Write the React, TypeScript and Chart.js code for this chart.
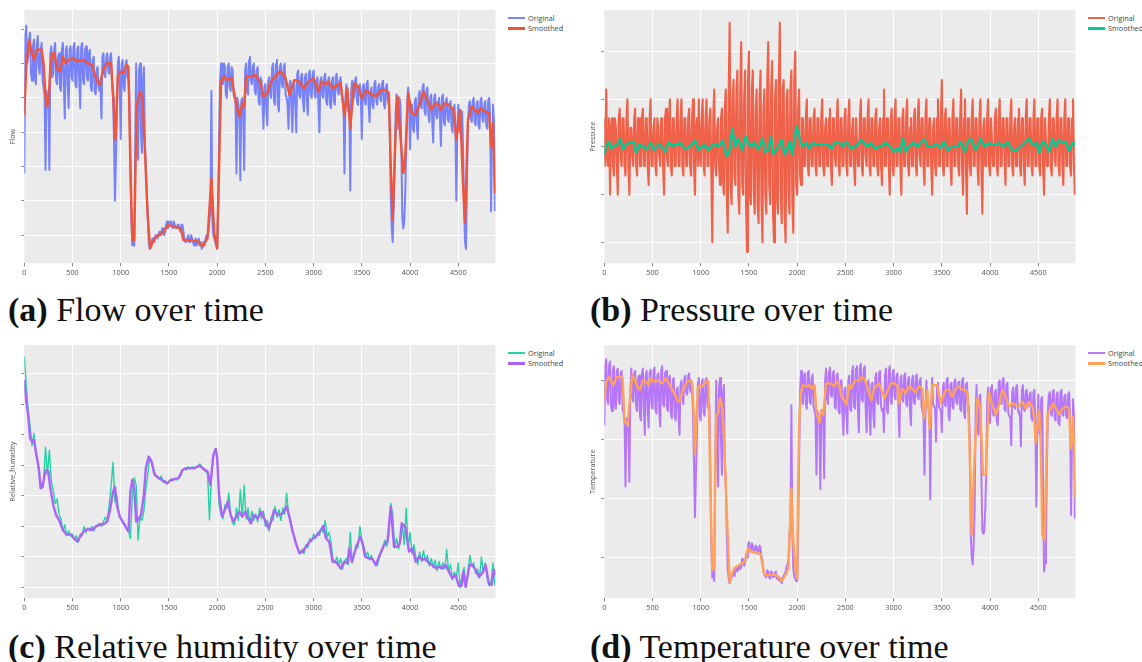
import React, { useEffect, useRef } from 'react';
import { Chart, registerables } from 'chart.js';

Chart.register(...registerables);

// ---------- time axes for the raw ("Original") series ----------
// samples on even steps (A) and the in-between samples (B)
const timeOrig = [
  0, 20, 40, 60, 80, 100, 120, 140, 160, 180,
  200, 220, 240, 260, 280, 300, 320, 340, 360, 380,
  400, 420, 440, 460, 480, 500, 520, 540, 560, 580,
  600, 620, 640, 660, 680, 700, 720, 740, 760, 780,
  800, 820, 840, 860, 880, 900, 920, 940, 960, 980,
  1000, 1020, 1040, 1060, 1080, 1100, 1120, 1140, 1160, 1180,
  1200, 1220, 1240, 1260, 1280, 1300, 1320, 1340, 1360, 1380,
  1400, 1420, 1440, 1460, 1480, 1500, 1520, 1540, 1560, 1580,
  1600, 1620, 1640, 1660, 1680, 1700, 1720, 1740, 1760, 1780,
  1800, 1820, 1840, 1860, 1880, 1900, 1920, 1940, 1960, 1980,
  2000, 2020, 2040, 2060, 2080, 2100, 2120, 2140, 2160, 2180,
  2200, 2220, 2240, 2260, 2280, 2300, 2320, 2340, 2360, 2380,
  2400, 2420, 2440, 2460, 2480, 2500, 2520, 2540, 2560, 2580,
  2600, 2620, 2640, 2660, 2680, 2700, 2720, 2740, 2760, 2780,
  2800, 2820, 2840, 2860, 2880, 2900, 2920, 2940, 2960, 2980,
  3000, 3020, 3040, 3060, 3080, 3100, 3120, 3140, 3160, 3180,
  3200, 3220, 3240, 3260, 3280, 3300, 3320, 3340, 3360, 3380,
  3400, 3420, 3440, 3460, 3480, 3500, 3520, 3540, 3560, 3580,
  3600, 3620, 3640, 3660, 3680, 3700, 3720, 3740, 3760, 3780,
  3800, 3820, 3840, 3860, 3880, 3900, 3920, 3940, 3960, 3980,
  4000, 4020, 4040, 4060, 4080, 4100, 4120, 4140, 4160, 4180,
  4200, 4220, 4240, 4260, 4280, 4300, 4320, 4340, 4360, 4380,
  4400, 4420, 4440, 4460, 4480, 4500, 4520, 4540, 4560, 4580,
  4600, 4620, 4640, 4660, 4680, 4700, 4720, 4740, 4760, 4780,
  4800, 4820, 4840, 4860, 4880,
];
const timeOrigMid = [
  10, 30, 50, 70, 90, 110, 130, 150, 170, 190,
  210, 230, 250, 270, 290, 310, 330, 350, 370, 390,
  410, 430, 450, 470, 490, 510, 530, 550, 570, 590,
  610, 630, 650, 670, 690, 710, 730, 750, 770, 790,
  810, 830, 850, 870, 890, 910, 930, 950, 970, 990,
  1010, 1030, 1050, 1070, 1090, 1110, 1130, 1150, 1170, 1190,
  1210, 1230, 1250, 1270, 1290, 1310, 1330, 1350, 1370, 1390,
  1410, 1430, 1450, 1470, 1490, 1510, 1530, 1550, 1570, 1590,
  1610, 1630, 1650, 1670, 1690, 1710, 1730, 1750, 1770, 1790,
  1810, 1830, 1850, 1870, 1890, 1910, 1930, 1950, 1970, 1990,
  2010, 2030, 2050, 2070, 2090, 2110, 2130, 2150, 2170, 2190,
  2210, 2230, 2250, 2270, 2290, 2310, 2330, 2350, 2370, 2390,
  2410, 2430, 2450, 2470, 2490, 2510, 2530, 2550, 2570, 2590,
  2610, 2630, 2650, 2670, 2690, 2710, 2730, 2750, 2770, 2790,
  2810, 2830, 2850, 2870, 2890, 2910, 2930, 2950, 2970, 2990,
  3010, 3030, 3050, 3070, 3090, 3110, 3130, 3150, 3170, 3190,
  3210, 3230, 3250, 3270, 3290, 3310, 3330, 3350, 3370, 3390,
  3410, 3430, 3450, 3470, 3490, 3510, 3530, 3550, 3570, 3590,
  3610, 3630, 3650, 3670, 3690, 3710, 3730, 3750, 3770, 3790,
  3810, 3830, 3850, 3870, 3890, 3910, 3930, 3950, 3970, 3990,
  4010, 4030, 4050, 4070, 4090, 4110, 4130, 4150, 4170, 4190,
  4210, 4230, 4250, 4270, 4290, 4310, 4330, 4350, 4370, 4390,
  4410, 4430, 4450, 4470, 4490, 4510, 4530, 4550, 4570, 4590,
  4610, 4630, 4650, 4670, 4690, 4710, 4730, 4750, 4770, 4790,
  4810, 4830, 4850, 4870,
];

const xTickValues = [0, 500, 1000, 1500, 2000, 2500, 3000, 3500, 4000, 4500];

// ---------- (a) Flow ----------
const flowOrig = [
  18, 61, 52, 59, 45, 57, 44, 58, 47, 56,
  43, 19, 40, 19, 55, 47, 56, 44, 53, 42,
  56, 34, 55, 37, 55, 45, 56, 43, 55, 37,
  56, 44, 55, 45, 54, 42, 52, 41, 49, 42,
  34, 53, 46, 53, 47, 53, 40, 10, 35, 52,
  28, 51, 42, 51, 45, 20, -3, -3, 50, 22,
  50, 24, 49, 20, 6, -4, -2, -1, 0, -1,
  1, 0, 2, 1, 4, 3, 4, 2, 3, 2,
  3, 1, 3, -1, -2, 0, -2, -1, -3, -1,
  -2, -3, -4, -2, -1, 0, 5, 42, 0, -2,
  -4, 30, 50, 44, 49, 40, 50, 42, 48, 40,
  18, 38, 16, 40, 19, 50, 41, 52, 44, 50,
  41, 49, 38, 45, 31, 44, 32, 46, 40, 50,
  38, 51, 36, 50, 43, 50, 40, 31, 45, 30,
  44, 30, 48, 40, 47, 36, 47, 35, 48, 40,
  48, 40, 46, 30, 46, 40, 47, 38, 46, 37,
  46, 38, 47, 41, 46, 40, 18, 44, 36, 13,
  45, 40, 46, 38, 44, 28, 44, 38, 45, 33,
  43, 37, 45, 38, 44, 39, 45, 37, 44, 38,
  12, -2, 20, 41, 31, 38, 5, 4, 25, 43,
  25, 38, 30, 40, 28, 42, 37, 44, 35, 43,
  33, 41, 27, 41, 34, 40, 26, 41, 32, 40,
  33, 39, 30, 38, 10, 38, 30, 36, 9, -4,
  32, 39, 33, 40, 32, 39, 31, 40, 33, 39,
  31, 40, 7, 38, 7,
];
const flowOrigMid = [
  58, 50, 57, 47, 55, 46, 56, 49, 54, 45,
  41, 42, 40, 53, 46, 54, 45, 52, 43, 54,
  44, 54, 44, 54, 46, 55, 44, 54, 45, 55,
  45, 54, 46, 53, 43, 51, 42, 48, 43, 44,
  52, 47, 52, 48, 52, 44, 28, 22, 50, 44,
  50, 43, 50, 46, 40, 5, -2, 25, 30, 48,
  30, 45, 28, 12, -2, -3, -1, -2, 0, 0,
  1, 2, 0, 3, 2, 4, 3, 4, 2, 3,
  2, 3, 1, -2, -1, -2, 0, -2, -2, -3,
  -1, -2, -3, -3, 0, 1, 6, 4, -1, -3,
  10, 45, 45, 50, 41, 49, 43, 49, 41, 40,
  40, 36, 39, 35, 48, 42, 51, 45, 49, 42,
  48, 39, 46, 38, 43, 36, 45, 41, 49, 39,
  50, 38, 49, 44, 49, 41, 38, 44, 38, 43,
  38, 47, 41, 46, 39, 46, 39, 47, 41, 47,
  41, 45, 38, 45, 41, 46, 39, 45, 38, 45,
  39, 46, 42, 45, 41, 38, 40, 38, 38, 42,
  41, 45, 39, 43, 40, 43, 39, 44, 38, 42,
  38, 44, 39, 43, 40, 44, 38, 43, 39, 30,
  2, 8, 35, 36, 40, 25, 2, 12, 38, 38,
  37, 31, 39, 32, 41, 38, 43, 36, 42, 35,
  40, 33, 40, 35, 39, 34, 40, 33, 39, 34,
  38, 32, 37, 32, 30, 31, 35, 25, -2, 15,
  38, 34, 39, 33, 38, 32, 39, 34, 38, 32,
  39, 35, 30, 33,
];
const flowSmoothT = [
  0, 20, 50, 80, 100, 130, 180, 200, 220, 235,
  250, 270, 290, 310, 340, 370, 400, 430, 460, 500,
  550, 600, 650, 700, 750, 780, 820, 860, 900, 920,
  945, 970, 1000, 1030, 1060, 1080, 1100, 1120, 1140, 1165,
  1200, 1225, 1250, 1280, 1305, 1350, 1400, 1450, 1490, 1550,
  1620, 1650, 1700, 1800, 1850, 1900, 1940, 1970, 2000, 2020,
  2040, 2070, 2110, 2150, 2200, 2230, 2260, 2280, 2300, 2350,
  2400, 2450, 2480, 2520, 2550, 2600, 2650, 2700, 2750, 2800,
  2850, 2900, 2950, 3000, 3050, 3080, 3120, 3150, 3200, 3250,
  3280, 3320, 3350, 3380, 3420, 3460, 3500, 3550, 3600, 3650,
  3700, 3750, 3780, 3800, 3820, 3850, 3870, 3900, 3930, 3950,
  3980, 4020, 4060, 4100, 4140, 4180, 4220, 4260, 4300, 4320,
  4360, 4400, 4450, 4480, 4520, 4550, 4570, 4600, 4640, 4700,
  4730, 4780, 4820, 4840, 4860, 4880,
];
const flowSmoothV = [
  35.0, 49.1, 56.9, 53.0, 51.1, 54.0, 54.0, 50.1, 40.4, 37.5,
  38.4, 49.1, 53.0, 53.0, 48.6, 47.7, 52.0, 50.1, 51.1, 51.6,
  50.6, 51.1, 50.3, 49.6, 45.2, 43.8, 48.2, 50.1, 50.1, 41.4,
  27.8, 46.2, 47.7, 47.2, 49.6, 49.1, 20.0, -1.4, -1.4, 37.5,
  41.8, 40.4, 24.9, 5.4, -3.8, -0.9, 0.1, 1.1, 3.0, 2.5,
  2.0, -1.4, -1.4, -1.8, -3.3, -0.9, 16.6, 0.6, -3.8, 20.0,
  44.8, 46.2, 45.2, 45.7, 37.5, 34.6, 38.4, 37.5, 46.2, 46.2,
  46.7, 44.3, 40.4, 41.4, 44.3, 46.2, 47.7, 46.7, 40.9, 45.2,
  44.8, 42.8, 44.8, 45.7, 41.8, 44.8, 43.8, 44.8, 42.8, 43.8,
  44.3, 34.6, 42.8, 31.2, 44.3, 43.3, 39.9, 42.3, 40.9, 40.4,
  42.3, 42.3, 41.4, 20.0, 4.5, 29.7, 40.4, 28.7, 18.1, 22.9,
  41.4, 35.5, 35.0, 38.4, 41.8, 39.4, 36.5, 38.4, 38.0, 36.5,
  38.4, 38.0, 36.5, 27.8, 36.5, 14.2, 3.5, 33.6, 37.5, 35.5,
  37.0, 36.0, 35.5, 25.8, 32.6, 12.2,
];

// ---------- (b) Pressure ----------
const pressureOrig = [
  0.6, 1.2, -0.4, -1.0, 0.6, -0.6, 0.4, -1.0, 0.8, -0.4,
  0.6, -0.6, 1.0, -1.0, 0.4, -0.4, 0.8, -0.6, 0.6, -0.4,
  0.8, -0.4, 0.6, -0.8, 1.0, -0.4, 0.6, -0.6, 0.4, -0.4,
  0.6, -1.0, 0.8, -0.4, 1.0, -0.6, 0.6, -0.4, 1.0, -0.4,
  1.0, -0.6, 0.6, -0.4, 0.8, -0.6, 1.0, -1.0, 0.6, 1.0,
  -0.4, 1.0, -0.6, 1.0, -0.4, 0.8, -2.0, 1.2, -0.6, 0.6,
  -0.8, 0.8, -1.0, 1.2, -1.8, 2.6, -1.2, 1.4, -0.8, 1.6,
  -1.4, 2.2, -1.0, 1.6, -2.2, 2.0, -1.2, 1.6, -1.4, 1.2,
  -1.6, 1.6, -2.0, 1.2, -1.4, 2.2, -1.2, 1.8, -2.0, 1.4,
  -1.4, 2.6, -1.6, 1.4, -2.0, 1.2, -1.4, 1.6, -1.8, 2.0,
  -1.0, 1.2, -0.8, 0.6, -0.4, 1.0, -0.6, 0.6, -0.4, 0.8,
  -0.6, 0.6, -0.4, 1.0, -0.6, 0.6, -0.4, 0.8, -0.8, 0.6,
  -0.4, 1.0, -0.6, 0.6, -0.4, 0.8, -0.6, 1.0, -0.4, 0.6,
  -0.8, 0.6, -0.4, 1.0, -0.6, 0.6, -0.4, 1.0, -0.6, 0.6,
  -0.4, 0.8, -0.6, 0.6, -0.8, 1.2, -0.4, 0.6, -1.0, 0.8,
  -0.6, 1.0, -0.4, 0.6, -1.0, 0.8, -0.4, 1.0, -0.6, 0.6,
  -0.4, 0.8, -0.6, 1.0, -0.4, 0.6, -0.8, 1.0, -0.4, 0.6,
  -1.0, 0.6, -0.6, 1.0, -0.4, 1.4, -0.6, 0.8, -0.4, 0.6,
  -0.8, 1.0, -0.4, 0.6, -0.6, 1.2, -1.0, 1.0, -1.4, 0.6,
  -0.6, 1.0, -0.4, 0.6, -0.8, 1.0, -1.4, 0.6, -0.4, 1.0,
  -0.6, 0.6, -0.4, 0.8, -0.6, 1.0, -0.4, 0.6, -0.8, 0.6,
  -0.4, 1.0, -0.6, 0.6, -0.4, 0.8, -0.6, 0.6, -0.8, 1.0,
  -0.4, 0.6, -0.6, 1.0, -0.4, 0.6, -0.6, 0.8, -1.0, 0.6,
  -0.4, 1.0, -0.6, 0.6, -0.4, 1.0, -0.6, 0.6, -0.8, 1.0,
  -0.4, 0.6, -0.6, 1.0, -1.0,
];
const pressureOrigMid = [
  -0.4, -0.2, 0.6, 0.4, -0.4, 0.6, -0.4, 0.6, -0.2, 0.6,
  -0.4, 0.6, -0.4, 0.4, -0.2, 0.6, -0.4, 0.6, -0.4, 0.6,
  -0.4, 0.6, -0.4, 0.6, -0.4, 0.4, -0.4, 0.6, -0.2, 0.6,
  -0.4, 0.6, -0.2, 0.6, -0.4, 0.6, -0.4, 0.6, -0.4, 0.6,
  -0.4, 0.6, -0.4, 0.6, -0.4, 0.6, -0.4, 0.4, -0.4, -0.2,
  0.6, -0.4, 0.6, -0.4, 0.6, -0.6, 0.6, -0.4, 0.4, -0.4,
  0.6, -0.6, 0.8, -1.0, 1.2, -0.8, 1.0, -0.6, 1.2, -1.0,
  1.2, -0.8, 1.0, -1.2, 1.4, -1.0, 1.2, -1.0, 0.8, -1.2,
  1.0, -1.2, 0.8, -1.0, 1.4, -0.8, 1.2, -1.4, 1.0, -1.0,
  1.4, -1.0, 1.2, -1.4, 1.0, -1.0, 1.2, -1.2, 1.4, -0.8,
  0.8, -0.6, 0.6, -0.4, 0.6, -0.4, 0.6, -0.4, 0.6, -0.4,
  0.6, -0.4, 0.6, -0.4, 0.4, -0.4, 0.6, -0.4, 0.6, -0.2,
  0.6, -0.4, 0.6, -0.4, 0.6, -0.4, 0.6, -0.4, 0.4, -0.4,
  0.6, -0.4, 0.6, -0.4, 0.6, -0.2, 0.6, -0.4, 0.6, -0.4,
  0.6, -0.4, 0.4, -0.4, 0.6, -0.4, 0.6, -0.4, 0.6, -0.4,
  0.6, -0.4, 0.6, -0.4, 0.6, -0.4, 0.6, -0.4, 0.4, -0.4,
  0.6, -0.4, 0.6, -0.2, 0.6, -0.4, 0.6, -0.4, 0.6, -0.4,
  0.4, -0.4, 0.6, -0.4, 0.6, -0.4, 0.6, -0.4, 0.6, -0.4,
  0.6, -0.4, 0.6, -0.4, 0.6, -0.4, 0.6, -0.4, 0.6, -0.4,
  0.6, -0.4, 0.6, -0.4, 0.6, -0.4, 0.4, -0.4, 0.6, -0.4,
  0.6, -0.4, 0.6, -0.4, 0.6, -0.4, 0.6, -0.2, 0.6, -0.4,
  0.6, -0.4, 0.4, -0.4, 0.6, -0.4, 0.6, -0.4, 0.6, -0.4,
  0.6, -0.4, 0.6, -0.4, 0.6, -0.4, 0.6, -0.4, 0.6, -0.4,
  0.6, -0.4, 0.6, -0.2, 0.6, -0.4, 0.6, -0.4, 0.6, -0.4,
  0.6, -0.4, 0.6, -0.4,
];
const pressureSmoothT = [
  0, 20, 50, 70, 97, 131, 166, 193, 228, 269,
  303, 331, 359, 407, 441, 483, 517, 562, 607, 631,
  666, 717, 786, 838, 890, 941, 976, 1034, 1079, 1131,
  1183, 1228, 1269, 1297, 1328, 1355, 1390, 1431, 1466, 1493,
  1528, 1552, 1597, 1641, 1666, 1700, 1728, 1752, 1793, 1841,
  1869, 1897, 1924, 1948, 1993, 2028, 2055, 2097, 2124, 2166,
  2217, 2269, 2321, 2355, 2390, 2434, 2476, 2510, 2562, 2607,
  2666, 2727, 2761, 2813, 2865, 2917, 2969, 3003, 3038, 3066,
  3097, 3125, 3159, 3204, 3246, 3287, 3322, 3349, 3401, 3446,
  3488, 3522, 3564, 3609, 3661, 3696, 3737, 3765, 3799, 3851,
  3903, 3945, 3990, 4042, 4093, 4138, 4180, 4221, 4266, 4318,
  4353, 4405, 4439, 4484, 4509, 4543, 4578, 4612, 4647, 4682,
  4716, 4751, 4785, 4820, 4855, 4886,
];
const pressureSmoothV = [
  -0.17, 0.04, 0.11, -0.03, 0.02, 0.04, 0.16, -0.05, 0.06, 0.09,
  0.11, -0.12, 0.04, 0.01, -0.05, 0.08, -0.06, 0.06, -0.03, -0.1,
  0.09, 0.02, 0.08, -0.05, 0.01, 0.13, -0.06, 0.04, -0.06, 0.06,
  0.01, 0.13, -0.2, -0.1, 0.39, 0.01, 0.18, -0.06, 0.22, 0.08,
  0.01, 0.09, -0.05, 0.18, -0.1, -0.06, 0.22, -0.15, -0.03, 0.15,
  -0.17, -0.03, 0.11, -0.17, 0.44, 0.15, 0.01, 0.08, -0.03, 0.08,
  0.04, 0.06, 0.04, -0.03, 0.08, 0.09, 0.01, 0.11, -0.03, 0.01,
  0.15, 0.01, 0.08, -0.03, 0.01, 0.08, 0.01, -0.1, -0.03, -0.1,
  0.18, -0.1, 0.01, 0.09, 0.01, 0.11, 0.15, 0.01, 0.01, 0.06,
  -0.03, 0.11, -0.08, 0.01, 0.01, 0.11, -0.1, 0.08, 0.18, -0.06,
  0.16, 0.01, 0.08, 0.04, 0.08, 0.01, 0.11, -0.05, -0.08, 0.01,
  0.08, 0.18, 0.04, 0.08, -0.12, 0.11, 0.06, -0.1, 0.16, 0.01,
  0.15, 0.09, 0.11, -0.08, 0.08, 0.06,
];

// ---------- (c) Relative humidity ----------
const humidityOrig = [
  95.7, 86.4, 78.0, 73.0, 66.5, 70.5, 64.0, 61.0, 56.0, 53.0,
  55.0, 66.0, 57.0, 65.0, 55.0, 52.0, 47.5, 49.0, 44.0, 42.5,
  38.5, 40.5, 37.0, 38.5, 36.8, 37.5, 35.5, 37.0, 34.8, 37.5,
  37.0, 40.0, 38.0, 39.5, 38.5, 40.0, 38.5, 39.8, 40.5, 41.0,
  40.0, 41.5, 43.0, 42.0, 47.0, 53.0, 61.0, 48.0, 50.0, 44.0,
  42.5, 41.0, 41.0, 39.0, 38.5, 36.0, 50.0, 56.0, 53.5, 35.5,
  43.0, 42.0, 45.0, 52.0, 57.0, 62.5, 61.5, 59.0, 56.5, 56.0,
  55.5, 56.5, 54.5, 55.0, 54.0, 54.8, 55.5, 55.0, 55.6, 55.2,
  56.0, 56.5, 58.5, 59.0, 58.5, 59.5, 58.8, 59.6, 58.8, 59.4,
  59.5, 60.5, 59.5, 58.5, 58.0, 57.5, 42.1, 56.0, 63.0, 65.5,
  63.0, 47.0, 44.0, 42.5, 47.0, 46.0, 51.0, 44.0, 41.0, 40.5,
  46.0, 42.0, 52.0, 43.0, 53.5, 42.5, 46.0, 41.0, 45.0, 42.0,
  44.0, 41.5, 46.0, 42.5, 45.0, 40.0, 42.0, 38.5, 43.0, 42.0,
  46.5, 43.0, 45.5, 42.0, 46.0, 44.0, 50.9, 44.0, 41.5, 38.0,
  36.5, 34.0, 32.5, 31.0, 32.5, 31.0, 34.0, 33.0, 36.0, 35.0,
  37.5, 36.0, 38.0, 37.0, 39.5, 38.0, 42.0, 36.5, 38.0, 35.0,
  29.0, 28.0, 30.0, 27.5, 29.5, 26.0, 28.5, 29.5, 27.5, 38.0,
  28.0, 31.0, 34.0, 33.0, 40.0, 35.5, 33.5, 30.5, 31.5, 29.0,
  30.5, 28.5, 28.0, 27.0, 29.5, 31.5, 33.5, 35.5, 33.5, 37.0,
  47.5, 44.0, 33.0, 36.0, 32.5, 35.0, 40.5, 34.0, 46.0, 33.0,
  38.0, 31.0, 34.0, 30.0, 27.5, 31.5, 28.5, 32.0, 28.5, 30.5,
  27.0, 29.5, 26.5, 29.0, 25.5, 28.5, 26.0, 28.0, 26.0, 32.5,
  25.0, 27.5, 22.5, 25.0, 23.0, 28.0, 19.8, 24.0, 26.5, 20.0,
  25.0, 30.5, 27.0, 28.0, 24.5, 26.0, 23.0, 30.0, 25.0, 28.0,
  23.0, 20.5, 21.5, 28.0, 20.5,
];
const humiditySmoothT = [
  0, 20, 40, 60, 80, 100, 120, 150, 170, 190,
  210, 230, 250, 270, 300, 330, 360, 400, 440, 480,
  520, 550, 580, 620, 660, 700, 740, 780, 820, 860,
  890, 920, 940, 960, 990, 1020, 1050, 1080, 1100, 1120,
  1140, 1160, 1180, 1210, 1240, 1260, 1290, 1320, 1350, 1400,
  1450, 1480, 1520, 1600, 1640, 1680, 1760, 1820, 1860, 1900,
  1930, 1960, 1985, 2000, 2020, 2050, 2080, 2110, 2140, 2170,
  2200, 2230, 2260, 2290, 2320, 2350, 2380, 2420, 2460, 2500,
  2530, 2560, 2590, 2630, 2679, 2721, 2748, 2783, 2817, 2852,
  2886, 2921, 2972, 3007, 3041, 3076, 3100, 3128, 3162, 3197,
  3231, 3283, 3317, 3352, 3369, 3397, 3438, 3483, 3507, 3534,
  3576, 3610, 3645, 3679, 3731, 3766, 3800, 3834, 3869, 3893,
  3914, 3948, 3990, 4024, 4059, 4093, 4128, 4162, 4197, 4231,
  4272, 4300, 4334, 4369, 4403, 4438, 4472, 4507, 4534, 4552,
  4576, 4617, 4645, 4679, 4714, 4748, 4783, 4817, 4845, 4869,
  4886,
];
const humiditySmoothV = [
  88.1, 80.9, 76.6, 68.9, 67.8, 68.4, 64.5, 59.1, 52.5, 53.0,
  56.9, 58.5, 58.0, 52.5, 47.0, 43.7, 42.1, 38.8, 37.2, 37.4,
  35.9, 35.0, 36.6, 38.5, 39.1, 38.8, 39.9, 40.5, 40.7, 41.6,
  45.4, 51.4, 53.0, 47.0, 43.2, 41.6, 39.9, 38.3, 51.4, 55.2,
  52.5, 41.6, 42.1, 43.7, 50.3, 59.1, 62.9, 61.2, 56.9, 55.8,
  54.7, 54.1, 55.2, 55.8, 58.5, 59.1, 59.1, 59.9, 58.8, 58.0,
  53.6, 63.4, 65.4, 62.3, 50.3, 43.2, 45.4, 48.1, 43.7, 41.6,
  43.2, 44.8, 43.2, 44.8, 42.6, 41.0, 43.7, 42.6, 44.8, 41.6,
  39.4, 41.6, 45.4, 43.7, 44.3, 46.5, 43.2, 38.3, 34.4, 31.2,
  31.7, 33.3, 35.5, 36.3, 37.2, 38.8, 40.2, 36.1, 35.0, 28.4,
  28.4, 26.2, 28.4, 27.9, 32.8, 28.4, 32.8, 36.6, 34.4, 30.1,
  29.5, 29.3, 27.3, 30.1, 33.9, 35.0, 46.5, 33.3, 33.3, 34.4,
  41.0, 39.9, 31.7, 32.8, 28.4, 30.1, 29.0, 29.5, 27.9, 27.3,
  26.2, 26.8, 26.2, 27.3, 25.1, 23.0, 24.0, 20.5, 20.5, 25.1,
  20.2, 27.3, 27.3, 25.7, 23.5, 24.6, 27.3, 21.3, 20.8, 25.7,
  24.0,
];

// ---------- (d) Temperature ----------
const temperatureOrig = [
  21.2, 26.8, 23.0, 26.6, 22.4, 26.2, 22.6, 26.0, 23.0, 25.8,
  22.2, 16.0, 21.0, 16.4, 26.0, 23.2, 25.8, 22.4, 25.4, 21.6,
  26.0, 20.4, 25.8, 21.0, 25.9, 22.6, 26.1, 22.2, 25.6, 21.1,
  26.2, 22.8, 25.8, 22.4, 25.4, 21.8, 25.2, 21.6, 24.4, 20.4,
  25.0, 23.0, 25.4, 23.8, 25.6, 24.0, 22.0, 13.4, 20.0, 25.2,
  21.6, 25.1, 22.0, 25.2, 22.6, 17.0, 8.3, 8.0, 25.0, 16.0,
  25.2, 17.0, 24.6, 16.0, 9.0, 7.8, 8.3, 8.6, 9.0, 8.8,
  9.4, 9.2, 9.8, 9.6, 10.0, 11.3, 10.6, 11.0, 10.5, 10.9,
  10.4, 10.8, 9.8, 8.6, 8.3, 8.8, 8.2, 8.7, 8.4, 8.8,
  8.3, 8.0, 7.8, 8.4, 8.8, 9.4, 12.0, 22.9, 9.0, 8.2,
  8.0, 18.0, 25.8, 23.0, 25.6, 22.6, 25.8, 23.0, 25.5, 22.4,
  17.0, 22.0, 15.8, 22.5, 16.7, 26.0, 23.0, 26.1, 23.6, 25.8,
  22.6, 25.6, 22.2, 25.0, 20.4, 24.4, 20.5, 25.4, 22.4, 26.2,
  22.6, 26.2, 20.6, 26.4, 23.2, 26.2, 20.6, 25.0, 20.4, 24.8,
  21.0, 25.6, 23.0, 25.8, 22.4, 20.6, 26.0, 22.2, 26.2, 23.0,
  25.9, 23.4, 25.6, 20.2, 25.4, 23.2, 25.6, 22.8, 25.3, 21.2,
  25.4, 23.0, 25.5, 23.4, 25.2, 22.4, 17.0, 25.0, 22.6, 14.9,
  25.2, 22.8, 19.8, 24.8, 22.6, 20.6, 24.8, 22.8, 25.2, 21.6,
  24.8, 22.6, 25.1, 23.0, 24.9, 22.4, 25.2, 21.8, 24.8, 22.8,
  12.0, 9.4, 14.0, 24.6, 20.4, 23.8, 12.3, 12.2, 17.0, 24.4,
  21.4, 24.6, 22.0, 24.2, 21.2, 25.0, 23.0, 25.2, 22.4, 24.8,
  22.0, 19.5, 24.4, 22.6, 24.6, 22.2, 19.4, 24.6, 22.4, 24.2,
  22.8, 24.0, 21.6, 24.2, 14.3, 23.8, 20.2, 23.6, 8.8, 11.0,
  22.4, 24.0, 22.0, 24.2, 21.6, 24.0, 21.2, 24.2, 22.0, 23.8,
  21.8, 24.0, 13.6, 23.4, 13.3,
];
const temperatureOrigMid = [
  26.2, 23.4, 26.3, 22.8, 25.9, 23.0, 25.8, 23.3, 25.6, 22.6,
  21.5, 21.8, 21.0, 24.0, 23.6, 25.6, 22.8, 25.2, 22.0, 25.6,
  22.6, 25.4, 22.4, 25.6, 22.9, 25.8, 22.6, 25.4, 22.4, 25.8,
  23.0, 25.6, 22.7, 25.2, 22.2, 25.0, 22.0, 24.2, 22.0, 24.6,
  23.4, 25.2, 24.0, 25.4, 24.2, 24.6, 18.0, 17.0, 24.6, 22.0,
  24.8, 22.3, 25.0, 22.8, 23.0, 11.0, 8.6, 17.0, 20.0, 24.4,
  20.0, 23.8, 18.0, 12.0, 8.2, 8.1, 8.6, 8.4, 9.2, 9.1,
  9.0, 9.9, 9.3, 10.3, 10.9, 10.5, 11.2, 10.4, 11.0, 10.3,
  11.0, 10.0, 8.8, 8.4, 8.9, 8.3, 8.8, 8.3, 8.7, 8.2,
  8.1, 8.2, 8.3, 8.6, 9.2, 9.8, 12.5, 12.0, 8.4, 8.0,
  12.0, 24.0, 23.4, 25.4, 23.0, 25.6, 23.2, 25.2, 22.8, 22.0,
  22.4, 21.6, 22.0, 21.8, 25.0, 23.4, 25.8, 23.8, 25.6, 22.8,
  25.4, 22.4, 25.0, 22.0, 24.2, 22.0, 25.0, 22.6, 25.8, 22.8,
  26.0, 22.4, 26.0, 23.4, 25.9, 22.6, 24.8, 22.0, 24.6, 22.0,
  25.2, 23.2, 25.6, 22.8, 22.6, 25.4, 22.6, 25.8, 23.2, 25.6,
  23.6, 25.4, 22.6, 25.0, 23.4, 25.4, 23.0, 25.0, 22.4, 25.0,
  23.2, 25.3, 23.6, 25.0, 22.8, 22.0, 22.4, 22.8, 22.4, 22.6,
  23.0, 22.6, 24.4, 22.8, 22.4, 24.4, 23.0, 25.0, 22.0, 24.6,
  22.8, 24.9, 23.2, 24.8, 22.6, 25.0, 22.2, 24.6, 23.0, 20.0,
  10.0, 11.0, 22.0, 21.0, 23.6, 17.0, 12.0, 14.0, 23.0, 22.0,
  24.4, 22.2, 24.0, 21.6, 24.8, 23.2, 25.0, 22.6, 24.6, 22.2,
  21.8, 24.0, 22.8, 24.4, 22.4, 22.0, 24.2, 22.6, 24.0, 22.8,
  23.8, 21.8, 24.0, 21.0, 21.0, 20.6, 23.4, 16.0, 9.5, 18.0,
  23.8, 22.2, 24.0, 21.8, 23.8, 21.4, 24.0, 22.2, 23.6, 22.0,
  23.8, 22.0, 20.0, 22.0,
];
const temperatureSmoothT = [
  0, 20, 50, 90, 130, 170, 190, 210, 240, 290,
  310, 350, 370, 400, 430, 460, 480, 520, 560, 600,
  640, 680, 720, 760, 780, 820, 860, 900, 910, 930,
  940, 955, 970, 990, 1020, 1060, 1080, 1090, 1110, 1120,
  1140, 1150, 1160, 1180, 1200, 1220, 1240, 1260, 1280, 1300,
  1320, 1350, 1400, 1450, 1470, 1490, 1520, 1580, 1620, 1640,
  1660, 1700, 1780, 1820, 1840, 1880, 1910, 1940, 1960, 1990,
  2000, 2010, 2020, 2040, 2060, 2100, 2130, 2150, 2180, 2200,
  2230, 2250, 2270, 2300, 2350, 2380, 2410, 2440, 2460, 2490,
  2510, 2540, 2560, 2600, 2650, 2670, 2700, 2750, 2770, 2796,
  2848, 2907, 2969, 3003, 3038, 3055, 3090, 3125, 3159, 3194,
  3228, 3263, 3298, 3315, 3349, 3374, 3401, 3453, 3488, 3540,
  3574, 3609, 3644, 3678, 3713, 3747, 3765, 3782, 3810, 3834,
  3869, 3896, 3927, 3955, 3990, 4024, 4059, 4093, 4128, 4163,
  4197, 4232, 4266, 4301, 4336, 4370, 4405, 4439, 4457, 4474,
  4509, 4526, 4543, 4567, 4595, 4630, 4657, 4692, 4716, 4751,
  4785, 4820, 4837, 4861, 4886,
];
const temperatureSmoothV = [
  23.3, 24.9, 25.3, 24.6, 25.3, 25.3, 25.2, 21.5, 21.2, 25.45,
  25.2, 24.3, 24.2, 25.0, 24.9, 24.6, 25.2, 24.9, 25.0, 24.75,
  25.2, 24.6, 24.0, 23.3, 23.2, 24.3, 24.9, 25.0, 24.75, 21.8,
  18.8, 21.5, 24.3, 24.6, 24.5, 24.9, 24.9, 20.4, 11.9, 8.9,
  9.1, 17.5, 22.1, 22.2, 23.5, 22.9, 20.4, 16.1, 11.9, 7.9,
  8.5, 9.1, 9.35, 9.6, 9.9, 10.8, 10.5, 10.4, 10.3, 9.35,
  8.5, 8.5, 8.55, 8.2, 8.0, 8.5, 9.1, 15.85, 11.3, 8.35,
  8.2, 16.1, 21.5, 24.0, 24.6, 24.5, 24.6, 24.3, 24.6, 22.3,
  21.4, 22.5, 22.1, 24.75, 24.75, 24.5, 24.9, 24.5, 23.6, 23.3,
  22.9, 24.6, 24.3, 25.0, 25.0, 25.3, 25.1, 23.8, 23.3, 24.3,
  24.75, 23.5, 24.75, 24.75, 24.6, 23.05, 24.3, 23.9, 24.5, 24.3,
  24.0, 24.5, 24.3, 21.8, 24.2, 20.9, 24.6, 24.6, 23.05, 24.2,
  24.2, 23.6, 24.3, 24.5, 24.2, 24.2, 24.0, 20.9, 11.9, 17.5,
  23.5, 22.9, 17.0, 17.0, 24.0, 22.9, 22.1, 22.9, 24.2, 23.6,
  22.8, 23.05, 22.9, 22.8, 23.2, 22.6, 23.2, 22.8, 21.9, 19.7,
  22.5, 19.5, 11.9, 11.5, 22.1, 22.6, 23.05, 22.5, 22.1, 22.6,
  22.8, 22.6, 19.2, 21.9, 15.0,
];

// ---------- drawing ----------
const TICK_FONT = '"Open Sans", "DejaVu Sans", sans-serif';
const TEXT_COLOR = '#555';

const pts = (t: number[], v: number[]) => t.map((x, i) => ({ x, y: v[i] }));
const interleave = (tA: number[], vA: number[], tB: number[] | null, vB: number[] | null) => {
  const out: { x: number; y: number }[] = [];
  for (let i = 0; i < tA.length; i++) {
    out.push({ x: tA[i], y: vA[i] });
    if (tB && vB && i < tB.length) out.push({ x: tB[i], y: vB[i] });
  }
  return out;
};

const bgPlugin = {
  id: 'panelBg',
  beforeDraw(chart: any) {
    const { ctx, chartArea: a } = chart;
    if (!a) return;
    ctx.save();
    ctx.fillStyle = '#ebebeb';
    ctx.fillRect(a.left, a.top, a.right - a.left, a.bottom - a.top);
    ctx.restore();
  },
};

type PanelProps = {
  x: number;
  y: number;
  yTitle: string;
  origV: number[];
  origMidV: number[] | null;
  origWidth: number;
  smT: number[];
  smV: number[];
  origColor: string;
  smColor: string;
  yMin: number;
  yMax: number;
  yStep: number;
};

const CW = 500;
const CH = 290;

function Panel(p: PanelProps) {
  const ref = useRef<HTMLCanvasElement | null>(null);
  useEffect(() => {
    if (!ref.current) return;
    const chart = new Chart(ref.current, {
      type: 'line',
      data: {
        datasets: [
          {
            label: 'Smoothed',
            data: pts(p.smT, p.smV),
            borderColor: p.smColor,
            borderWidth: 2.4,
            pointRadius: 0,
            tension: 0,
            borderJoinStyle: 'round',
            order: 0,
          },
          {
            label: 'Original',
            data: interleave(timeOrig, p.origV, p.origMidV ? timeOrigMid : null, p.origMidV),
            borderColor: p.origColor,
            borderWidth: p.origWidth,
            pointRadius: 0,
            tension: 0,
            borderJoinStyle: 'round',
            order: 1,
          },
        ],
      },
      options: {
        responsive: false,
        animation: false,
        events: [],
        layout: { padding: { left: 0, top: 10, right: 4.5, bottom: 0 } },
        plugins: { legend: { display: false }, tooltip: { enabled: false } },
        scales: {
          x: {
            type: 'linear',
            min: 0,
            max: 4886,
            afterBuildTicks: (s: any) => {
              s.ticks = xTickValues.map((v) => ({ value: v }));
            },
            ticks: {
              font: { family: TICK_FONT, size: 7.3 },
              color: TEXT_COLOR,
              padding: 2,
              maxRotation: 0,
              autoSkip: false,
              callback: (v: any) => String(v),
            },
            grid: {
              color: (c: any) => (c.tick && c.tick.value === 0 ? 'rgba(0,0,0,0)' : '#ffffff'),
              lineWidth: 1,
              drawTicks: true,
              tickLength: 3,
              tickColor: '#888',
            },
            border: { display: false },
            afterFit: (s: any) => {
              s.height = 26.7;
            },
          },
          y: {
            type: 'linear',
            min: p.yMin,
            max: p.yMax,
            ticks: { display: false, stepSize: p.yStep, includeBounds: false },
            grid: { color: '#ffffff', lineWidth: 1, drawTicks: true, tickLength: 3, tickColor: '#888' },
            border: { display: false },
            title: {
              display: true,
              text: p.yTitle,
              font: { family: TICK_FONT, size: 7.3 },
              color: TEXT_COLOR,
              padding: { top: 8.5, bottom: 0 },
            },
            afterFit: (s: any) => {
              s.width = 24.3;
            },
          },
        },
      } as any,
      plugins: [bgPlugin],
    });
    return () => chart.destroy();
  }, []);

  return (
    <canvas
      ref={ref}
      width={CW}
      height={CH}
      style={{ position: 'absolute', left: p.x, top: p.y, width: CW, height: CH }}
    />
  );
}

function Legend({ x, y, origColor, smColor }: { x: number; y: number; origColor: string; smColor: string }) {
  const row = (label: string, color: string, h: number) => (
    <div style={{ display: 'flex', alignItems: 'center', height: 10.7 }}>
      <span style={{ display: 'inline-block', width: 17, height: h, background: color, marginRight: 3 }} />
      <span style={{ font: `7.3px ${TICK_FONT}`, color: '#444', lineHeight: '10.7px', whiteSpace: 'nowrap' }}>{label}</span>
    </div>
  );
  return (
    <div style={{ position: 'absolute', left: x, top: y }}>
      {row('Original', origColor, 1.5)}
      {row('Smoothed', smColor, 2.3)}
    </div>
  );
}

function Caption({ x, y, tag, text }: { x: number; y: number; tag: string; text: string }) {
  return (
    <div
      style={{
        position: 'absolute',
        left: x,
        top: y,
        fontFamily: '"Liberation Serif", "DejaVu Serif", serif',
        fontSize: 34,
        lineHeight: '34px',
        color: '#111',
        whiteSpace: 'nowrap',
      }}
    >
      <b>{tag}</b> {text}
    </div>
  );
}

const C_BLUE = 'rgba(99,110,250,0.85)';
const C_RED = '#EF553B';
const C_RED_T = 'rgba(239,85,59,0.92)';
const C_GREEN = '#00CC96';
const C_GREEN_T = 'rgba(0,204,150,0.85)';
const C_PURPLE = '#AB63FA';
const C_PURPLE_T = 'rgba(171,99,250,0.85)';
const C_ORANGE = '#FFA15A';

export default function App() {
  return (
    <div style={{ position: 'fixed', left: 0, top: 0, width: 1142, height: 662, background: '#fff', overflow: 'hidden' }}>
      <Panel x={0} y={0} yTitle="Flow" origV={flowOrig} origMidV={flowOrigMid} origWidth={2.0} smT={flowSmoothT} smV={flowSmoothV}
        origColor={C_BLUE} smColor={C_RED} yMin={-8.2} yMax={65.6} yStep={10} />
      <Legend x={508} y={12.6} origColor={C_BLUE} smColor={C_RED} />
      <Caption x={8} y={292.5} tag="(a)" text="Flow over time" />

      <Panel x={580} y={0} yTitle="Pressure" origV={pressureOrig} origMidV={pressureOrigMid} origWidth={2.1} smT={pressureSmoothT} smV={pressureSmoothV}
        origColor={C_RED_T} smColor={C_GREEN} yMin={-2.44} yMax={2.87} yStep={1} />
      <Legend x={1088} y={12.6} origColor={C_RED_T} smColor={C_GREEN} />
      <Caption x={590} y={292.5} tag="(b)" text="Pressure over time" />

      <Panel x={0} y={335} yTitle="Relative_humidity" origV={humidityOrig} origMidV={null} origWidth={1.4} smT={humiditySmoothT} smV={humiditySmoothV}
        origColor={C_GREEN_T} smColor={C_PURPLE} yMin={16.4} yMax={99.5} yStep={10} />
      <Legend x={508} y={347.6} origColor={C_GREEN_T} smColor={C_PURPLE} />
      <Caption x={8} y={629.5} tag="(c)" text="Relative humidity over time" />

      <Panel x={580} y={335} yTitle="Temperature" origV={temperatureOrig} origMidV={temperatureOrigMid} origWidth={2.0} smT={temperatureSmoothT} smV={temperatureSmoothV}
        origColor={C_PURPLE_T} smColor={C_ORANGE} yMin={6.53} yMax={28.0} yStep={5} />
      <Legend x={1088} y={347.6} origColor={C_PURPLE_T} smColor={C_ORANGE} />
      <Caption x={590} y={629.5} tag="(d)" text="Temperature over time" />
    </div>
  );
}
